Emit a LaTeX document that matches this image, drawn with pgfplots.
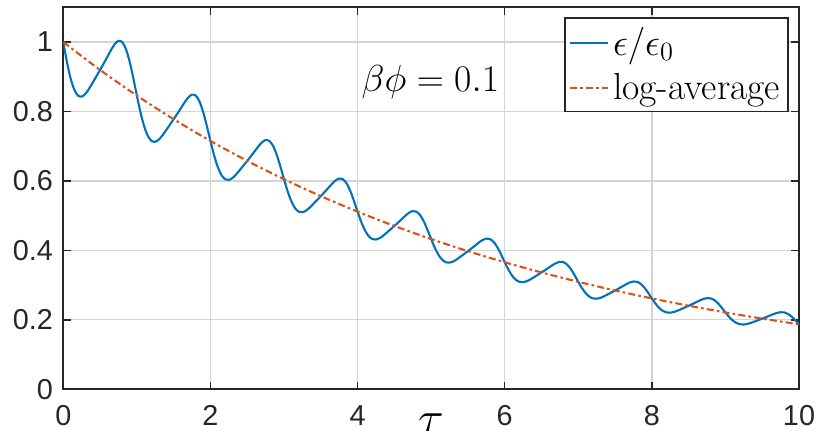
\RequirePackage{fix-cm}
\documentclass[border=0pt]{standalone}
\usepackage{fontspec}
\usepackage{pgfplots}
\pgfplotsset{compat=1.18}
\newfontfamily\helv{Liberation Sans}
\definecolor{mblue}{rgb}{0,0.447,0.741}
\definecolor{mred}{rgb}{0.85,0.325,0.098}
\definecolor{axgray}{rgb}{0.15,0.15,0.15}
\begin{document}
\begin{tikzpicture}
\begin{axis}[
  scale only axis, width=367.85pt, height=191pt,
  xmin=0, xmax=10, ymin=0, ymax=1.1,
  xtick={0,2,4,6,8,10}, ytick={0,0.2,0.4,0.6,0.8,1},
  tick align=inside, tick pos=both, major tick length=3.8pt,
  tick style={axgray, line width=0.7pt},
  axis line style={axgray, line width=0.9pt},
  grid=major, major grid style={black!17, line width=0.65pt},
  /pgf/number format/assume math mode=true,
  ticklabel style={font=\helv\fontsize{14.4}{17}\selectfont, text=axgray},
  xticklabel style={anchor=north, inner sep=0pt, yshift=-7.9pt},
  yticklabel style={anchor=east, inner sep=0pt, xshift=-5pt},
  xlabel={$\tau$},
  xlabel style={font=\fontsize{24}{28}\selectfont, overlay, at={(axis description cs:0.5,0)}, anchor=north, inner sep=0pt, yshift=-12pt},
  legend style={at={(axis description cs:0.9864,0.9738)}, anchor=north east, draw=axgray, line width=0.8pt, font=\fontsize{18.8}{22}\selectfont, inner xsep=2pt, inner ysep=2.5pt, row sep=3.5pt, fill=white},
  legend cell align=left,
  legend image code/.code={\draw[#1] (0pt,0pt) -- (19pt,0pt);},
]
\addplot[mblue, line width=1.05pt, smooth] coordinates {
(0,1) (0.05,0.9421) (0.1,0.8949) (0.15,0.8625) (0.2,0.8457) (0.25,0.8429) (0.3,0.8508) (0.35,0.8654) (0.4,0.8830) (0.45,0.9013)
(0.5,0.9196) (0.55,0.9383) (0.6,0.9578) (0.65,0.9773) (0.7,0.9940) (0.75,1.0033) (0.8,1.0000) (0.85,0.9805) (0.9,0.9450) (0.95,0.8977)
(1,0.8457) (1.05,0.7967) (1.1,0.7568) (1.15,0.7294) (1.2,0.7152) (1.25,0.7128) (1.3,0.7195) (1.35,0.7319) (1.4,0.7468) (1.45,0.7622)
(1.5,0.7777) (1.55,0.7935) (1.6,0.8100) (1.65,0.8265) (1.7,0.8406) (1.75,0.8485) (1.8,0.8457) (1.85,0.8292) (1.9,0.7992) (1.95,0.7592)
(2,0.7152) (2.05,0.6738) (2.1,0.6400) (2.15,0.6169) (2.2,0.6049) (2.25,0.6029) (2.3,0.6085) (2.35,0.6189) (2.4,0.6315) (2.45,0.6446)
(2.5,0.6577) (2.55,0.6711) (2.6,0.6850) (2.65,0.6990) (2.7,0.7109) (2.75,0.7176) (2.8,0.7152) (2.85,0.7013) (2.9,0.6759) (2.95,0.6420)
(3,0.6049) (3.05,0.5698) (3.1,0.5413) (3.15,0.5217) (3.2,0.5115) (3.25,0.5098) (3.3,0.5146) (3.35,0.5234) (3.4,0.5341) (3.45,0.5452)
(3.5,0.5562) (3.55,0.5675) (3.6,0.5793) (3.65,0.5911) (3.7,0.6012) (3.75,0.6069) (3.8,0.6049) (3.85,0.5931) (3.9,0.5716) (3.95,0.5430)
(4,0.5115) (4.05,0.4819) (4.1,0.4578) (4.15,0.4412) (4.2,0.4326) (4.25,0.4312) (4.3,0.4352) (4.35,0.4427) (4.4,0.4517) (4.45,0.4610)
(4.5,0.4704) (4.55,0.4800) (4.6,0.4899) (4.65,0.4999) (4.7,0.5085) (4.75,0.5132) (4.8,0.5115) (4.85,0.5016) (4.9,0.4834) (4.95,0.4592)
(5,0.4326) (5.05,0.4075) (5.1,0.3871) (5.15,0.3731) (5.2,0.3658) (5.25,0.3646) (5.3,0.3680) (5.35,0.3744) (5.4,0.3820) (5.45,0.3899)
(5.5,0.3978) (5.55,0.4059) (5.6,0.4143) (5.65,0.4228) (5.7,0.4300) (5.75,0.4340) (5.8,0.4326) (5.85,0.4242) (5.9,0.4088) (5.95,0.3883)
(6,0.3658) (6.05,0.3447) (6.1,0.3274) (6.15,0.3155) (6.2,0.3094) (6.25,0.3084) (6.3,0.3113) (6.35,0.3166) (6.4,0.3230) (6.45,0.3297)
(6.5,0.3364) (6.55,0.3433) (6.6,0.3504) (6.65,0.3575) (6.7,0.3636) (6.75,0.3671) (6.8,0.3658) (6.85,0.3587) (6.9,0.3457) (6.95,0.3284)
(7,0.3094) (7.05,0.2915) (7.1,0.2769) (7.15,0.2669) (7.2,0.2617) (7.25,0.2608) (7.3,0.2632) (7.35,0.2678) (7.4,0.2732) (7.45,0.2789)
(7.5,0.2845) (7.55,0.2903) (7.6,0.2963) (7.65,0.3024) (7.7,0.3075) (7.75,0.3104) (7.8,0.3094) (7.85,0.3034) (7.9,0.2924) (7.95,0.2777)
(8,0.2617) (8.05,0.2465) (8.1,0.2342) (8.15,0.2257) (8.2,0.2213) (8.25,0.2206) (8.3,0.2226) (8.35,0.2264) (8.4,0.2310) (8.45,0.2358)
(8.5,0.2406) (8.55,0.2455) (8.6,0.2506) (8.65,0.2557) (8.7,0.2601) (8.75,0.2625) (8.8,0.2617) (8.85,0.2566) (8.9,0.2473) (8.95,0.2349)
(9,0.2213) (9.05,0.2085) (9.1,0.1980) (9.15,0.1909) (9.2,0.1871) (9.25,0.1865) (9.3,0.1883) (9.35,0.1915) (9.4,0.1954) (9.45,0.1994)
(9.5,0.2035) (9.55,0.2076) (9.6,0.2119) (9.65,0.2163) (9.7,0.2200) (9.75,0.2220) (9.8,0.2213) (9.85,0.2170) (9.9,0.2091) (9.95,0.1986)
(10,0.1871)
};
\addlegendentry{$\epsilon/\epsilon_0$}
\addplot[mred, line width=1.05pt, dash pattern=on 3.5pt off 1.6pt on 1.3pt off 1.6pt, smooth] coordinates {
(0,1) (0.5,0.9196) (1,0.8457) (1.5,0.7777) (2,0.7152) (2.5,0.6577) (3,0.6049) (3.5,0.5562) (4,0.5115) (4.5,0.4704)
(5,0.4326) (5.5,0.3978) (6,0.3658) (6.5,0.3364) (7,0.3094) (7.5,0.2845) (8,0.2617) (8.5,0.2406) (9,0.2213) (9.5,0.2035) (10,0.1871)
};
\addlegendentry{log-average}
\node[anchor=base west, inner sep=0pt, font=\fontsize{18.8}{22}\selectfont] at (axis cs:4.05,0.857) {$\beta\phi = 0.1$};
\end{axis}
\pgfresetboundingbox
\path[use as bounding box] ([xshift=-31.65pt,yshift=-20.85pt]current axis.south west) rectangle ([xshift=9pt,yshift=3.65pt]current axis.north east);
\end{tikzpicture}
\end{document}
